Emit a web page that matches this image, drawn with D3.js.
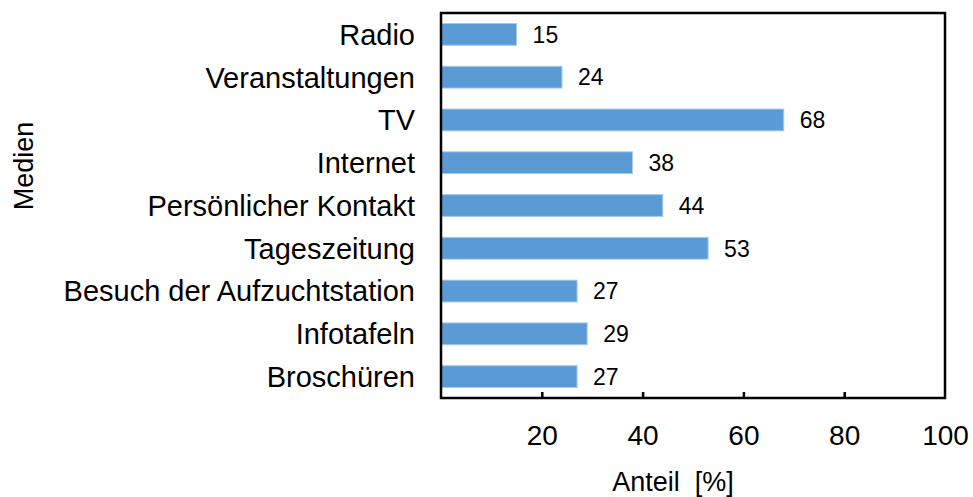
<!DOCTYPE html>
<html>
<head>
<meta charset="utf-8">
<script src="https://cdn.jsdelivr.net/npm/d3@7"></script>
<style>
  body { margin: 0; background: #fff; }
  svg text { font-family: "Liberation Sans", Arial, sans-serif; fill: #000; }
</style>
</head>
<body>
<svg id="chart" width="973" height="497"></svg>
<script>
var categories = ["Radio", "Veranstaltungen", "TV", "Internet", "Persönlicher Kontakt",
	"Tageszeitung", "Besuch der Aufzuchtstation", "Infotafeln", "Broschüren"];
var values = [15, 24, 68, 38, 44, 53, 27, 29, 27];
var xTicks = [20, 40, 60, 80, 100];
var xTitle = "Anteil  [%]";
var yTitle = "Medien";

var plot = { left: 441, right: 945, top: 13, bottom: 398 };
var barColor = "#5b9bd5";

var svg = d3.select("#chart");

var xscale = d3.scaleLinear().domain([0, 100]).range([plot.left, plot.right]);
var yscale = d3.scaleBand().domain(categories).range([plot.top, plot.bottom]).paddingInner(0.49).paddingOuter(0.245);

// bars
svg.selectAll(".bar").data(values)
	.enter().append("rect")
		.attr("class", "bar")
		.attr("x", xscale(0))
		.attr("y", function(d,i){ return yscale(categories[i]); })
		.attr("width", function(d){ return xscale(d) - xscale(0); })
		.attr("height", yscale.bandwidth())
		.attr("fill", barColor)
		.attr("stroke", "#a9c9ea")
		.attr("stroke-width", 1);

// value labels
svg.selectAll(".val").data(values)
	.enter().append("text")
		.attr("class", "val")
		.attr("x", function(d){ return xscale(d) + 16; })
		.attr("y", function(d,i){ return yscale(categories[i]) + yscale.bandwidth()/2; })
		.attr("dy", "0.36em")
		.attr("font-size", 23)
		.text(function(d){ return d; });

// category labels
svg.selectAll(".cat").data(categories)
	.enter().append("text")
		.attr("class", "cat")
		.attr("x", 415)
		.attr("y", function(d){ return yscale(d) + yscale.bandwidth()/2; })
		.attr("dy", "0.36em")
		.attr("text-anchor", "end")
		.attr("font-size", 29)
		.text(function(d){ return d; });

// x axis: ticks inside, labels below
var xAxis = d3.axisBottom(xscale).tickValues(xTicks).tickSize(-6).tickPadding(27);
var gx = svg.append("g")
	.attr("transform", "translate(0," + plot.bottom + ")")
	.call(xAxis);
gx.select(".domain").remove();
gx.selectAll(".tick line").attr("stroke", "#000").attr("stroke-width", 2.5);
gx.selectAll(".tick text")
	.attr("font-size", 28)
	.attr("font-family", "Liberation Sans, Arial, sans-serif")
	.attr("fill", "#000");
gx.selectAll(".tick").filter(function(d){ return d === 100; }).select("line").remove();

// frame
svg.append("rect")
	.attr("x", plot.left)
	.attr("y", plot.top)
	.attr("width", plot.right - plot.left)
	.attr("height", plot.bottom - plot.top)
	.attr("fill", "none")
	.attr("stroke", "#000")
	.attr("stroke-width", 2.5);

// axis titles
svg.append("text")
	.attr("x", 673)
	.attr("y", 491)
	.attr("text-anchor", "middle")
	.attr("font-size", 27)
	.style("white-space", "pre")
	.text(xTitle);

svg.append("text")
	.attr("transform", "translate(33,166) rotate(-90)")
	.attr("text-anchor", "middle")
	.attr("font-size", 27)
	.text(yTitle);
</script>
</body>
</html>
